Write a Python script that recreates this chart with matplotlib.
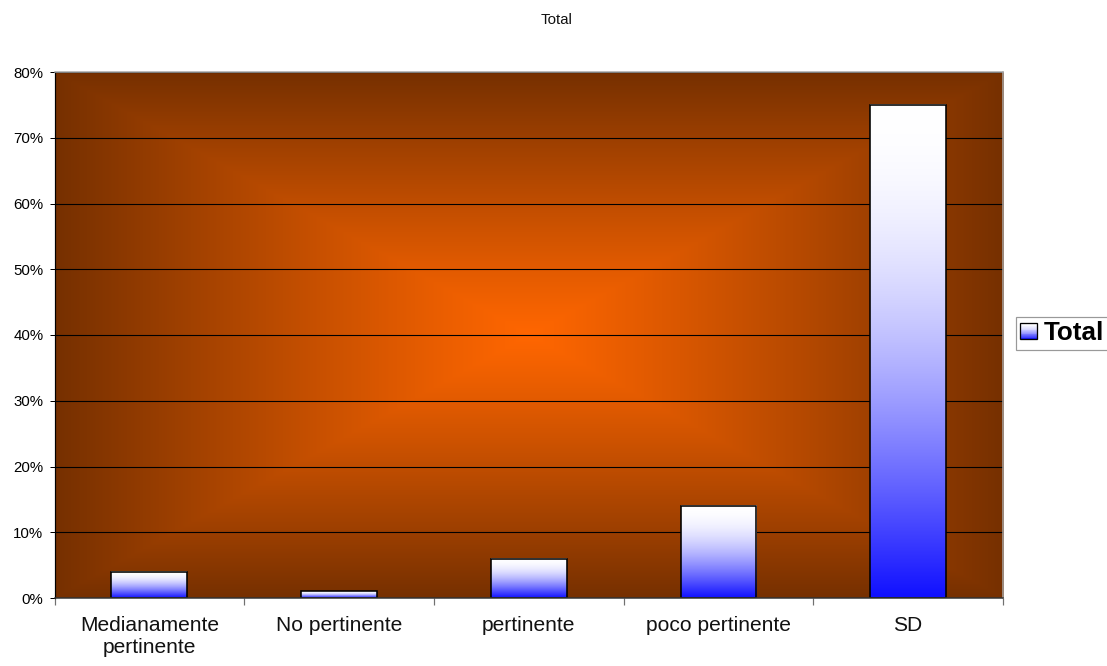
import numpy as np
import matplotlib
matplotlib.use("Agg")
import matplotlib.pyplot as plt
from matplotlib.patches import Rectangle
from matplotlib.legend_handler import HandlerBase
from matplotlib.colors import LinearSegmentedColormap, to_rgb

plt.rcParams['font.family'] = ['Liberation Sans', 'DejaVu Sans']

categories = ["Medianamente\npertinente", "No pertinente", "pertinente", "poco pertinente", "SD"]
values = [4, 1, 6, 14, 75]
series_name = "Total"
title = "Total"
y_ticks = [0, 10, 20, 30, 40, 50, 60, 70, 80]

W, H = 1107, 666
DPI = 72
fig = plt.figure(figsize=(W / DPI, H / DPI), dpi=DPI)
left_px, right_px, top_px, bot_px = 54.5, 1003, 72, 598
ax = fig.add_axes([left_px / W, 1 - bot_px / H, (right_px - left_px) / W, (bot_px - top_px) / H])

n = len(categories)
x = np.arange(n)
xlim = (-0.5, n - 0.5)
ylim = (0, 80)

# background rectangular "from center" gradient
center_c = np.array(to_rgb("#FF6600"))
edge_c = np.array(to_rgb("#763000"))
gy, gx = np.mgrid[-1:1:400j, -1:1:700j]
t = np.maximum(np.abs(gx), np.abs(gy))
t = np.clip(t, 0, 1) ** 1.12
img = center_c[None, None, :] * (1 - t[..., None]) + edge_c[None, None, :] * t[..., None]
ax.imshow(img, extent=(xlim[0], xlim[1], ylim[0], ylim[1]), aspect='auto', zorder=0, interpolation='bilinear')

# gridlines
ax.set_yticks(y_ticks)
ax.yaxis.grid(True, color='black', linewidth=1.1, zorder=1)
ax.set_axisbelow(False)

# bars: blue at bottom to white at top
blue = np.array(to_rgb("#1010FF"))
white = np.array([1.0, 1.0, 1.0])
s = np.linspace(0, 1, 256)
f = np.sin(s * np.pi / 2)
grad = blue[None, None, :] * (1 - f[:, None, None]) + white[None, None, :] * f[:, None, None]
bw = 0.4
bars = ax.bar(x, values, width=bw, facecolor='none', edgecolor='black', linewidth=1.6, zorder=4)
for b in bars:
    x0 = b.get_x()
    h = b.get_height()
    ax.imshow(grad, extent=(x0, x0 + bw, 0, h), aspect='auto', origin='lower',
              zorder=3, interpolation='bilinear')

ax.set_xlim(*xlim)
ax.set_ylim(*ylim)

# axes styling
ax.yaxis.set_major_formatter(matplotlib.ticker.FuncFormatter(lambda v, p: f"{int(v)}%"))
ax.tick_params(axis='y', length=5, width=1, color='black', pad=6, labelsize=15, labelcolor='black')
ax.set_xticks(np.arange(-0.5, n, 1.0))
ax.set_xticklabels([])
ax.tick_params(axis='x', which='major', length=7, width=1.2, color='#707070')
ax.set_xticks(x, minor=True)
ax.set_xticklabels(categories, minor=True, fontsize=21, color='#111111')
ax.tick_params(axis='x', which='minor', length=0, pad=18)

for sp in ['top', 'right']:
    ax.spines[sp].set_color('#A8A8A8')
    ax.spines[sp].set_linewidth(1.5)
ax.spines['left'].set_color('black')
ax.spines['left'].set_linewidth(1.2)
ax.spines['bottom'].set_color('#333333')
ax.spines['bottom'].set_linewidth(1.5)
for sp in ax.spines.values():
    sp.set_zorder(5)

fig.text(556.5 / W, 1 - 24 / H, title, ha='center', va='baseline', fontsize=15, color='#111111')


class GradHandler(HandlerBase):
    def create_artists(self, legend, orig_handle, xdescent, ydescent, width, height, fontsize, trans):
        arts = []
        nstripe = 20
        for i in range(nstripe):
            ss = (i + 0.5) / nstripe
            ff = np.sin(ss * np.pi / 2)
            c = blue * (1 - ff) + white * ff
            r = Rectangle((-xdescent, -ydescent + height * i / nstripe), width, height / nstripe,
                          facecolor=c, edgecolor='none', transform=trans)
            arts.append(r)
        arts.append(Rectangle((-xdescent, -ydescent), width, height, facecolor='none',
                              edgecolor='black', linewidth=1.3, transform=trans))
        return arts


proxy = Rectangle((0, 0), 1, 1)
leg = fig.legend([proxy], [series_name], handler_map={Rectangle: GradHandler()},
                 loc='upper left', bbox_to_anchor=(1015.7 / W, 1 - 316.7 / H),
                 bbox_transform=fig.transFigure, borderaxespad=0,
                 prop={'size': 26, 'weight': 'bold'}, frameon=True, fancybox=False,
                 borderpad=0.18, handlelength=0.62, handleheight=0.58, handletextpad=0.28)
leg.get_frame().set_edgecolor('#808080')
leg.get_frame().set_linewidth(1.2)

fig.savefig("out.png", dpi=DPI)
